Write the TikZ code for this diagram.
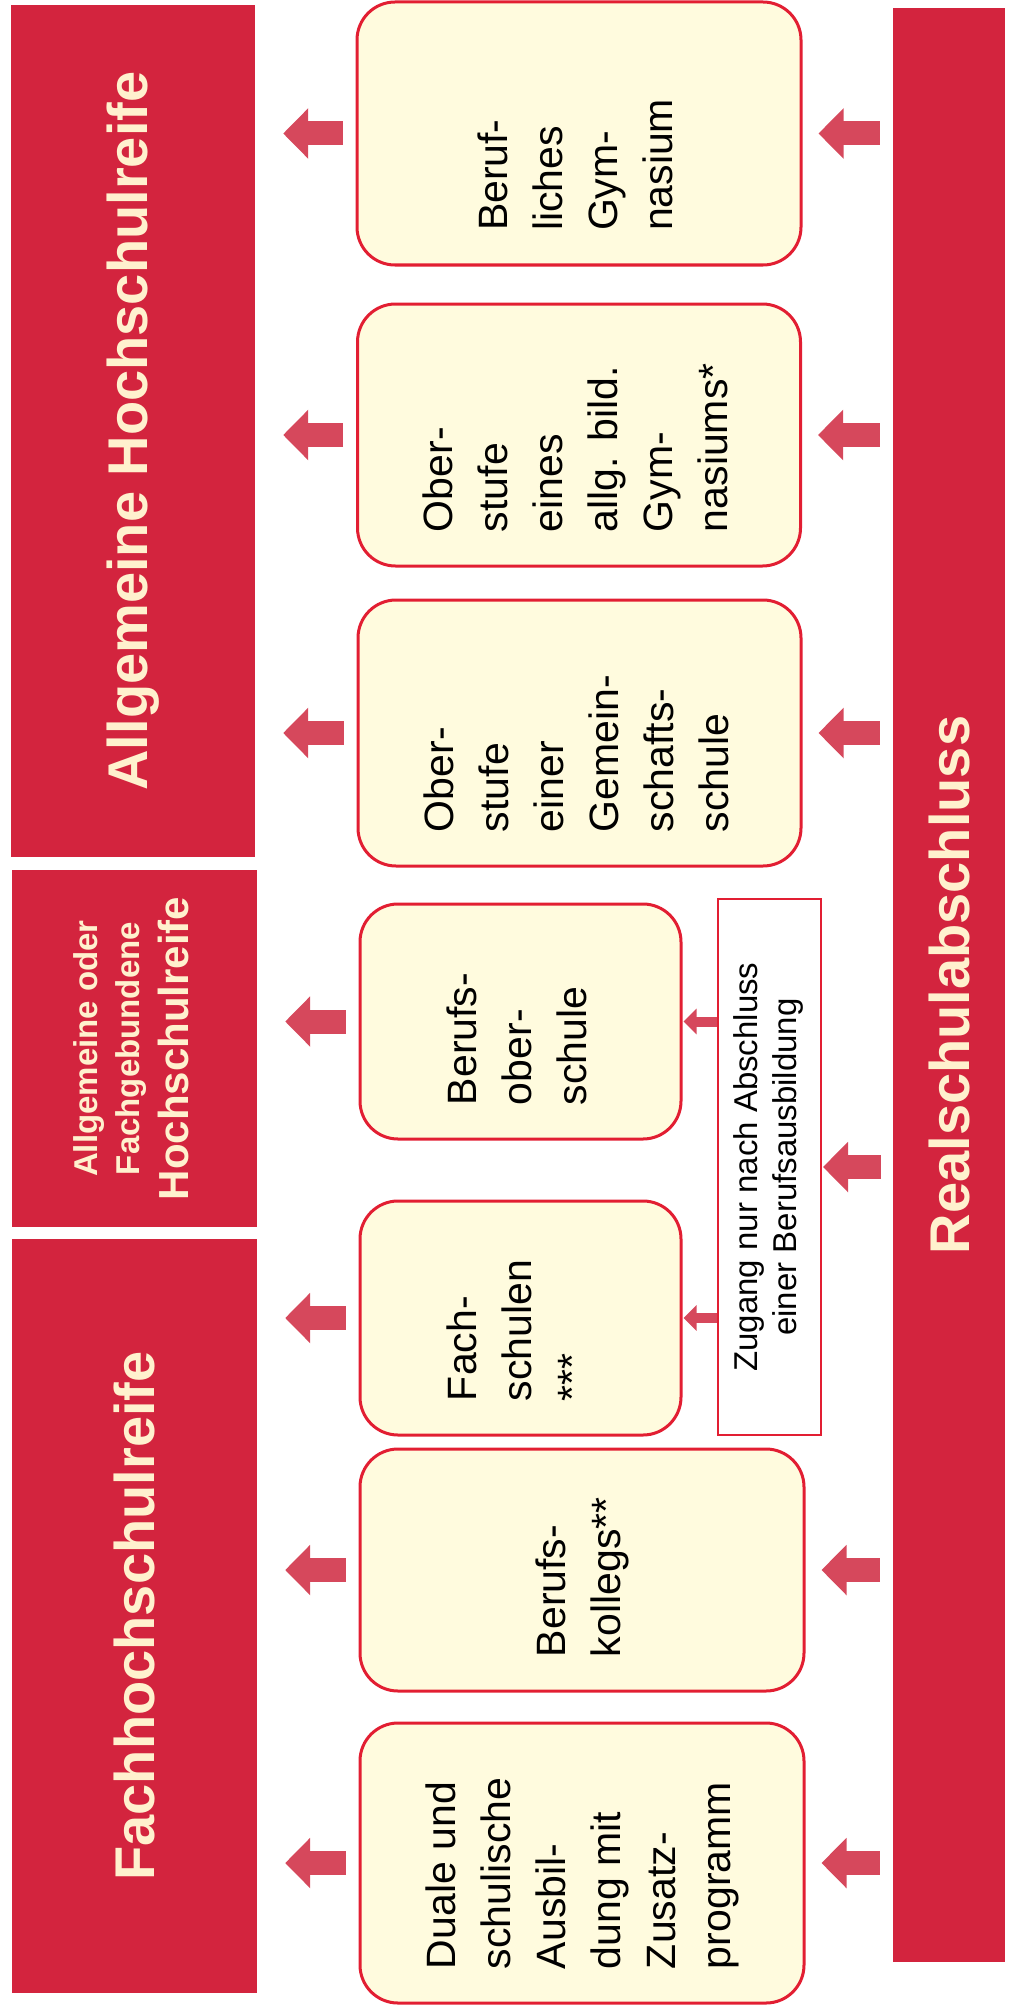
\documentclass[tikz,border=0pt]{standalone}
\usepackage{fontspec}
\setmainfont{Liberation Sans}
\usepackage{graphicx}
\usetikzlibrary{arrows.meta}
\definecolor{R1}{RGB}{211,36,62}
\definecolor{R2}{RGB}{226,30,50}
\definecolor{R3}{RGB}{214,72,92}
\definecolor{Y1}{RGB}{255,251,222}
\definecolor{Y2}{RGB}{255,241,206}
\newcommand{\vl}[2]{\rotatebox{90}{\makebox[#1][l]{\begin{tabular}{@{}l@{}}#2\end{tabular}}}}
\newcommand{\vc}[1]{\rotatebox{90}{\begin{tabular}{@{}c@{}}#1\end{tabular}}}

\begin{document}
\begin{tikzpicture}[x=1pt, y=-1pt,
    bar/.style={fill=R1, text=Y2, inner sep=0pt, font=\bfseries\fontsize{56}{64}\selectfont},
    box/.style={draw=R2, line width=3pt, fill=Y1, rounded corners=38pt, inner sep=0pt, font=\fontsize{41}{55}\selectfont},
    note/.style={draw=R2, line width=2pt, fill=white, inner sep=0pt, font=\fontsize{33}{39}\selectfont},
    fat/.style={R3, line width=24pt, -{Triangle[length=25pt, width=49pt]}},
    slim/.style={R3, line width=10pt, -{Triangle[length=13pt, width=25pt]}},
    larr/.style={fat, shorten <=13pt, shorten >=28pt},
    rarr/.style={fat, shorten <=13pt, shorten >=16pt}]
  \useasboundingbox (0,0) rectangle (1013,2009);
  % Abschluesse
  \node[bar, minimum width=244pt, minimum height=852pt] (ahr) at (133,431) {\rotatebox{90}{Allgemeine Hochschulreife}};
  \node[bar, minimum width=245pt, minimum height=357pt, font=\bfseries\fontsize{33}{42}\selectfont] (afh) at (134.5,1048.5)
    {\vc{Allgemeine oder\\Fachgebundene\\[6pt]\fontsize{42}{48}\selectfont Hochschulreife}};
  \node[bar, minimum width=245pt, minimum height=754pt] (fhr) at (134.5,1616) {\rotatebox{90}{Fachhochschulreife}};
  \node[bar, minimum width=112pt, minimum height=1954pt] (rsa) at (949,985) {\rotatebox{90}{Realschulabschluss}};
  % Schularten
  \node[box, minimum width=444pt, minimum height=263pt] (bgym) at (579,133.5) {\vl{195pt}{Beruf-\\liches\\Gym-\\nasium}};
  \node[box, minimum width=443pt, minimum height=262pt] (ogym) at (579,435) {\vl{194pt}{Ober-\\stufe\\eines\\allg. bild.\\Gym-\\nasiums*}};
  \node[box, minimum width=443pt, minimum height=266pt] (ogem) at (579.5,733) {\vl{198pt}{Ober-\\stufe\\einer\\Gemein-\\schafts-\\schule}};
  \node[box, minimum width=321pt, minimum height=235pt] (bos) at (520.5,1021.5) {\vl{167pt}{Berufs-\\ober-\\schule}};
  \node[box, minimum width=321pt, minimum height=234pt] (fs) at (520.5,1318) {\vl{166pt}{Fach-\\schulen\\{***}}};
  \node[box, minimum width=444pt, minimum height=242pt] (bk) at (582,1570) {\vl{174pt}{Berufs-\\kollegs**}};
  \node[box, minimum width=444pt, minimum height=280pt] (dual) at (582,1863) {\vl{212pt}{Duale und\\schulische\\Ausbil-\\dung mit\\Zusatz-\\programm}};
  \node[note, minimum width=103pt, minimum height=536pt] (zug) at (769.5,1167) {\vc{Zugang nur nach Abschluss\\einer Berufsausbildung}};
  % Pfeile
  \draw[larr] (bgym.west) -- (ahr.east |- bgym.west);
  \draw[larr] (ogym.west) -- (ahr.east |- ogym.west);
  \draw[larr] (ogem.west) -- (ahr.east |- ogem.west);
  \draw[larr] (bos.west) -- (afh.east |- bos.west);
  \draw[larr] (fs.west) -- (fhr.east |- fs.west);
  \draw[larr] (bk.west) -- (fhr.east |- bk.west);
  \draw[larr] (dual.west) -- (fhr.east |- dual.west);
  \draw[rarr] (rsa.west |- bgym.east) -- (bgym.east);
  \draw[rarr] (rsa.west |- ogym.east) -- (ogym.east);
  \draw[rarr] (rsa.west |- ogem.east) -- (ogem.east);
  \draw[fat, shorten <=12pt, shorten >=1pt] (rsa.west |- zug.east) -- (zug.east);
  \draw[rarr] (rsa.west |- bk.east) -- (bk.east);
  \draw[rarr] (rsa.west |- dual.east) -- (dual.east);
  \draw[slim, shorten >=1pt] (zug.west |- bos.east) -- (bos.east);
  \draw[slim, shorten >=1pt] (zug.west |- fs.east) -- (fs.east);
\end{tikzpicture}
\end{document}
